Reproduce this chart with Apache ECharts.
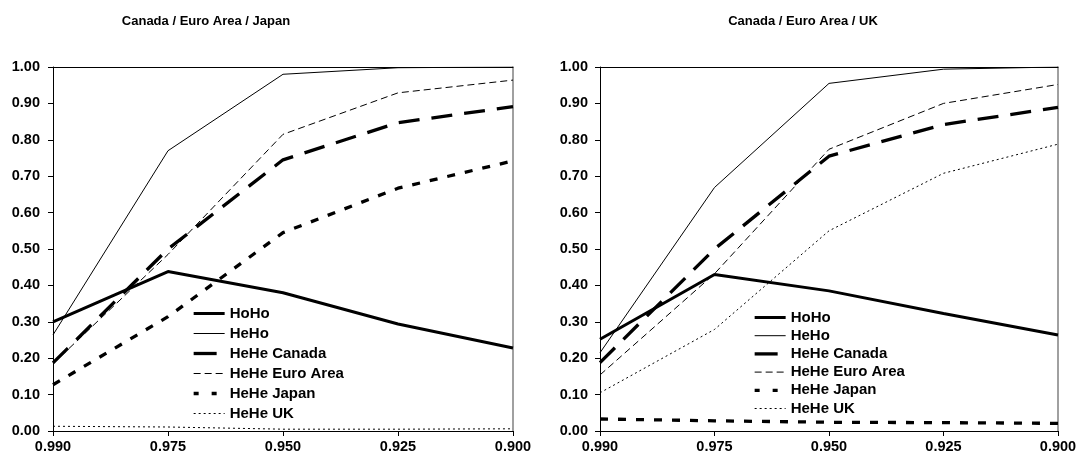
<!DOCTYPE html>
<html>
<head>
<meta charset="utf-8">
<script src="https://cdn.jsdelivr.net/npm/echarts@6/dist/echarts.min.js"></script>
<style>
html,body{margin:0;padding:0;background:#fff;}
#chart{width:1080px;height:461px;}
</style>
</head>
<body>
<div id="chart"></div>
<script>
// Categories (discount factor) and tick labels
const categories = ['0.990', '0.975', '0.950', '0.925', '0.900'];
const seriesNames = ['HoHo', 'HeHo', 'HeHe Canada', 'HeHe Euro Area', 'HeHe Japan', 'HeHe UK'];

// Left panel: Canada / Euro Area / Japan
const leftHoHo     = [0.300, 0.438, 0.380, 0.294, 0.228];
const leftHeHo     = [0.264, 0.770, 0.980, 0.998, 1.000];
const leftCanada   = [0.187, 0.500, 0.745, 0.847, 0.891];
const leftEuro     = [0.185, 0.485, 0.815, 0.929, 0.964];
const leftJapan    = [0.127, 0.314, 0.545, 0.667, 0.742];
const leftUK       = [0.013, 0.011, 0.005, 0.005, 0.006];

// Right panel: Canada / Euro Area / UK
const rightHoHo    = [0.252, 0.430, 0.385, 0.323, 0.264];
const rightHeHo    = [0.215, 0.669, 0.955, 0.994, 1.000];
const rightCanada  = [0.188, 0.500, 0.755, 0.842, 0.889];
const rightEuro    = [0.154, 0.432, 0.774, 0.900, 0.952];
const rightJapan   = [0.033, 0.028, 0.024, 0.023, 0.021];
const rightUK      = [0.105, 0.279, 0.550, 0.708, 0.788];

const styles = {
  'HoHo':           {width: 3,   type: 'solid',   legendType: 'solid'},
  'HeHo':           {width: 1,   type: 'solid',   legendType: 'solid'},
  'HeHe Canada':    {width: 3.3, type: [21, 12],  legendType: [23, 12]},
  'HeHe Euro Area': {width: 1,   type: [7, 4],    legendType: [7, 4]},
  'HeHe Japan':     {width: 3.3, type: [8, 10],   legendType: [5, 13]},
  'HeHe UK':        {width: 1,   type: [2, 3],    legendType: [2, 3]}
};

const FONT = 'Liberation Sans, Arial, sans-serif';

function mkSeries(name, data, gi) {
  const s = styles[name];
  return {
    name: name, type: 'line', data: data,
    xAxisIndex: gi * 2, yAxisIndex: gi * 2,
    symbol: 'none', silent: true, animation: false,
    lineStyle: {color: '#000', width: s.width, type: s.type, cap: 'butt'},
    itemStyle: {color: '#000'}
  };
}

function xAxes(gi) {
  return [{
    type: 'category', gridIndex: gi, data: categories, boundaryGap: false,
    axisLine: {lineStyle: {color: '#000', width: 1}},
    axisTick: {length: 5, lineStyle: {color: '#000'}},
    axisLabel: {color: '#000', fontFamily: FONT, fontWeight: 'bold', fontSize: 14.5, margin: 8},
    splitLine: {show: false}
  }, {
    type: 'value', gridIndex: gi, position: 'top', min: 0, max: 1,
    axisLine: {show: true, onZero: false, lineStyle: {color: '#000', width: 1}},
    axisTick: {show: false}, axisLabel: {show: false}, splitLine: {show: false}
  }];
}

function yAxes(gi, margin) {
  return [{
    type: 'value', gridIndex: gi, min: 0, max: 1, interval: 0.1,
    axisLine: {show: true, lineStyle: {color: '#000', width: 1}},
    axisTick: {show: true, length: 5, lineStyle: {color: '#000'}},
    axisLabel: {color: '#000', fontFamily: FONT, fontWeight: 'bold', fontSize: 14.5, margin: margin,
      formatter: v => v.toFixed(2)},
    splitLine: {show: false}
  }, {
    type: 'value', gridIndex: gi, position: 'right', min: 0, max: 1,
    axisLine: {show: true, onZero: false, lineStyle: {color: '#808080', width: 1.5}},
    axisTick: {show: false}, axisLabel: {show: false}, splitLine: {show: false}
  }];
}

const leftData = [leftHoHo, leftHeHo, leftCanada, leftEuro, leftJapan, leftUK];
const rightData = [rightHoHo, rightHeHo, rightCanada, rightEuro, rightJapan, rightUK];

const series = [];
seriesNames.forEach((n, i) => series.push(mkSeries(n, leftData[i], 0)));
seriesNames.forEach((n, i) => series.push(mkSeries(n, rightData[i], 1)));

function legend(left, top, gap) {
  return {
    orient: 'vertical', left: left, top: top,
    data: seriesNames.map(n => ({
      name: n,
      lineStyle: {color: '#000', width: styles[n].width, type: styles[n].legendType, cap: 'butt'}
    })),
    padding: 0,
    itemWidth: 31, itemHeight: 14, itemGap: gap, selectedMode: false,
    itemStyle: {color: 'rgba(0,0,0,0)', borderWidth: 0, opacity: 0},
    lineStyle: {width: 'inherit'},
    textStyle: {color: '#000', fontFamily: FONT, fontWeight: 'bold', fontSize: 15, padding: [0, 0, 0, 0]},
    inactiveColor: '#000'
  };
}

const option = {
  backgroundColor: '#fff',
  animation: false,
  title: [
    {text: 'Canada / Euro Area / Japan', left: 201, top: 10, textAlign: 'center',
     textStyle: {color: '#000', fontFamily: FONT, fontWeight: 'bold', fontSize: 13}},
    {text: 'Canada / Euro Area / UK', left: 798, top: 10, textAlign: 'center',
     textStyle: {color: '#000', fontFamily: FONT, fontWeight: 'bold', fontSize: 13}}
  ],
  grid: [
    {left: 53, right: 567, top: 67, bottom: 30, containLabel: false},
    {left: 600, right: 22, top: 67, bottom: 30, containLabel: false}
  ],
  xAxis: [...xAxes(0), ...xAxes(1)],
  yAxis: [...yAxes(0, 13), ...yAxes(1, 12)],
  legend: [legend(192, 306, 5), legend(753, 310, 3.2)],
  series: series
};

const chart = echarts.init(document.getElementById('chart'), null, {renderer: 'canvas'});
chart.setOption(option);
</script>
</body>
</html>
